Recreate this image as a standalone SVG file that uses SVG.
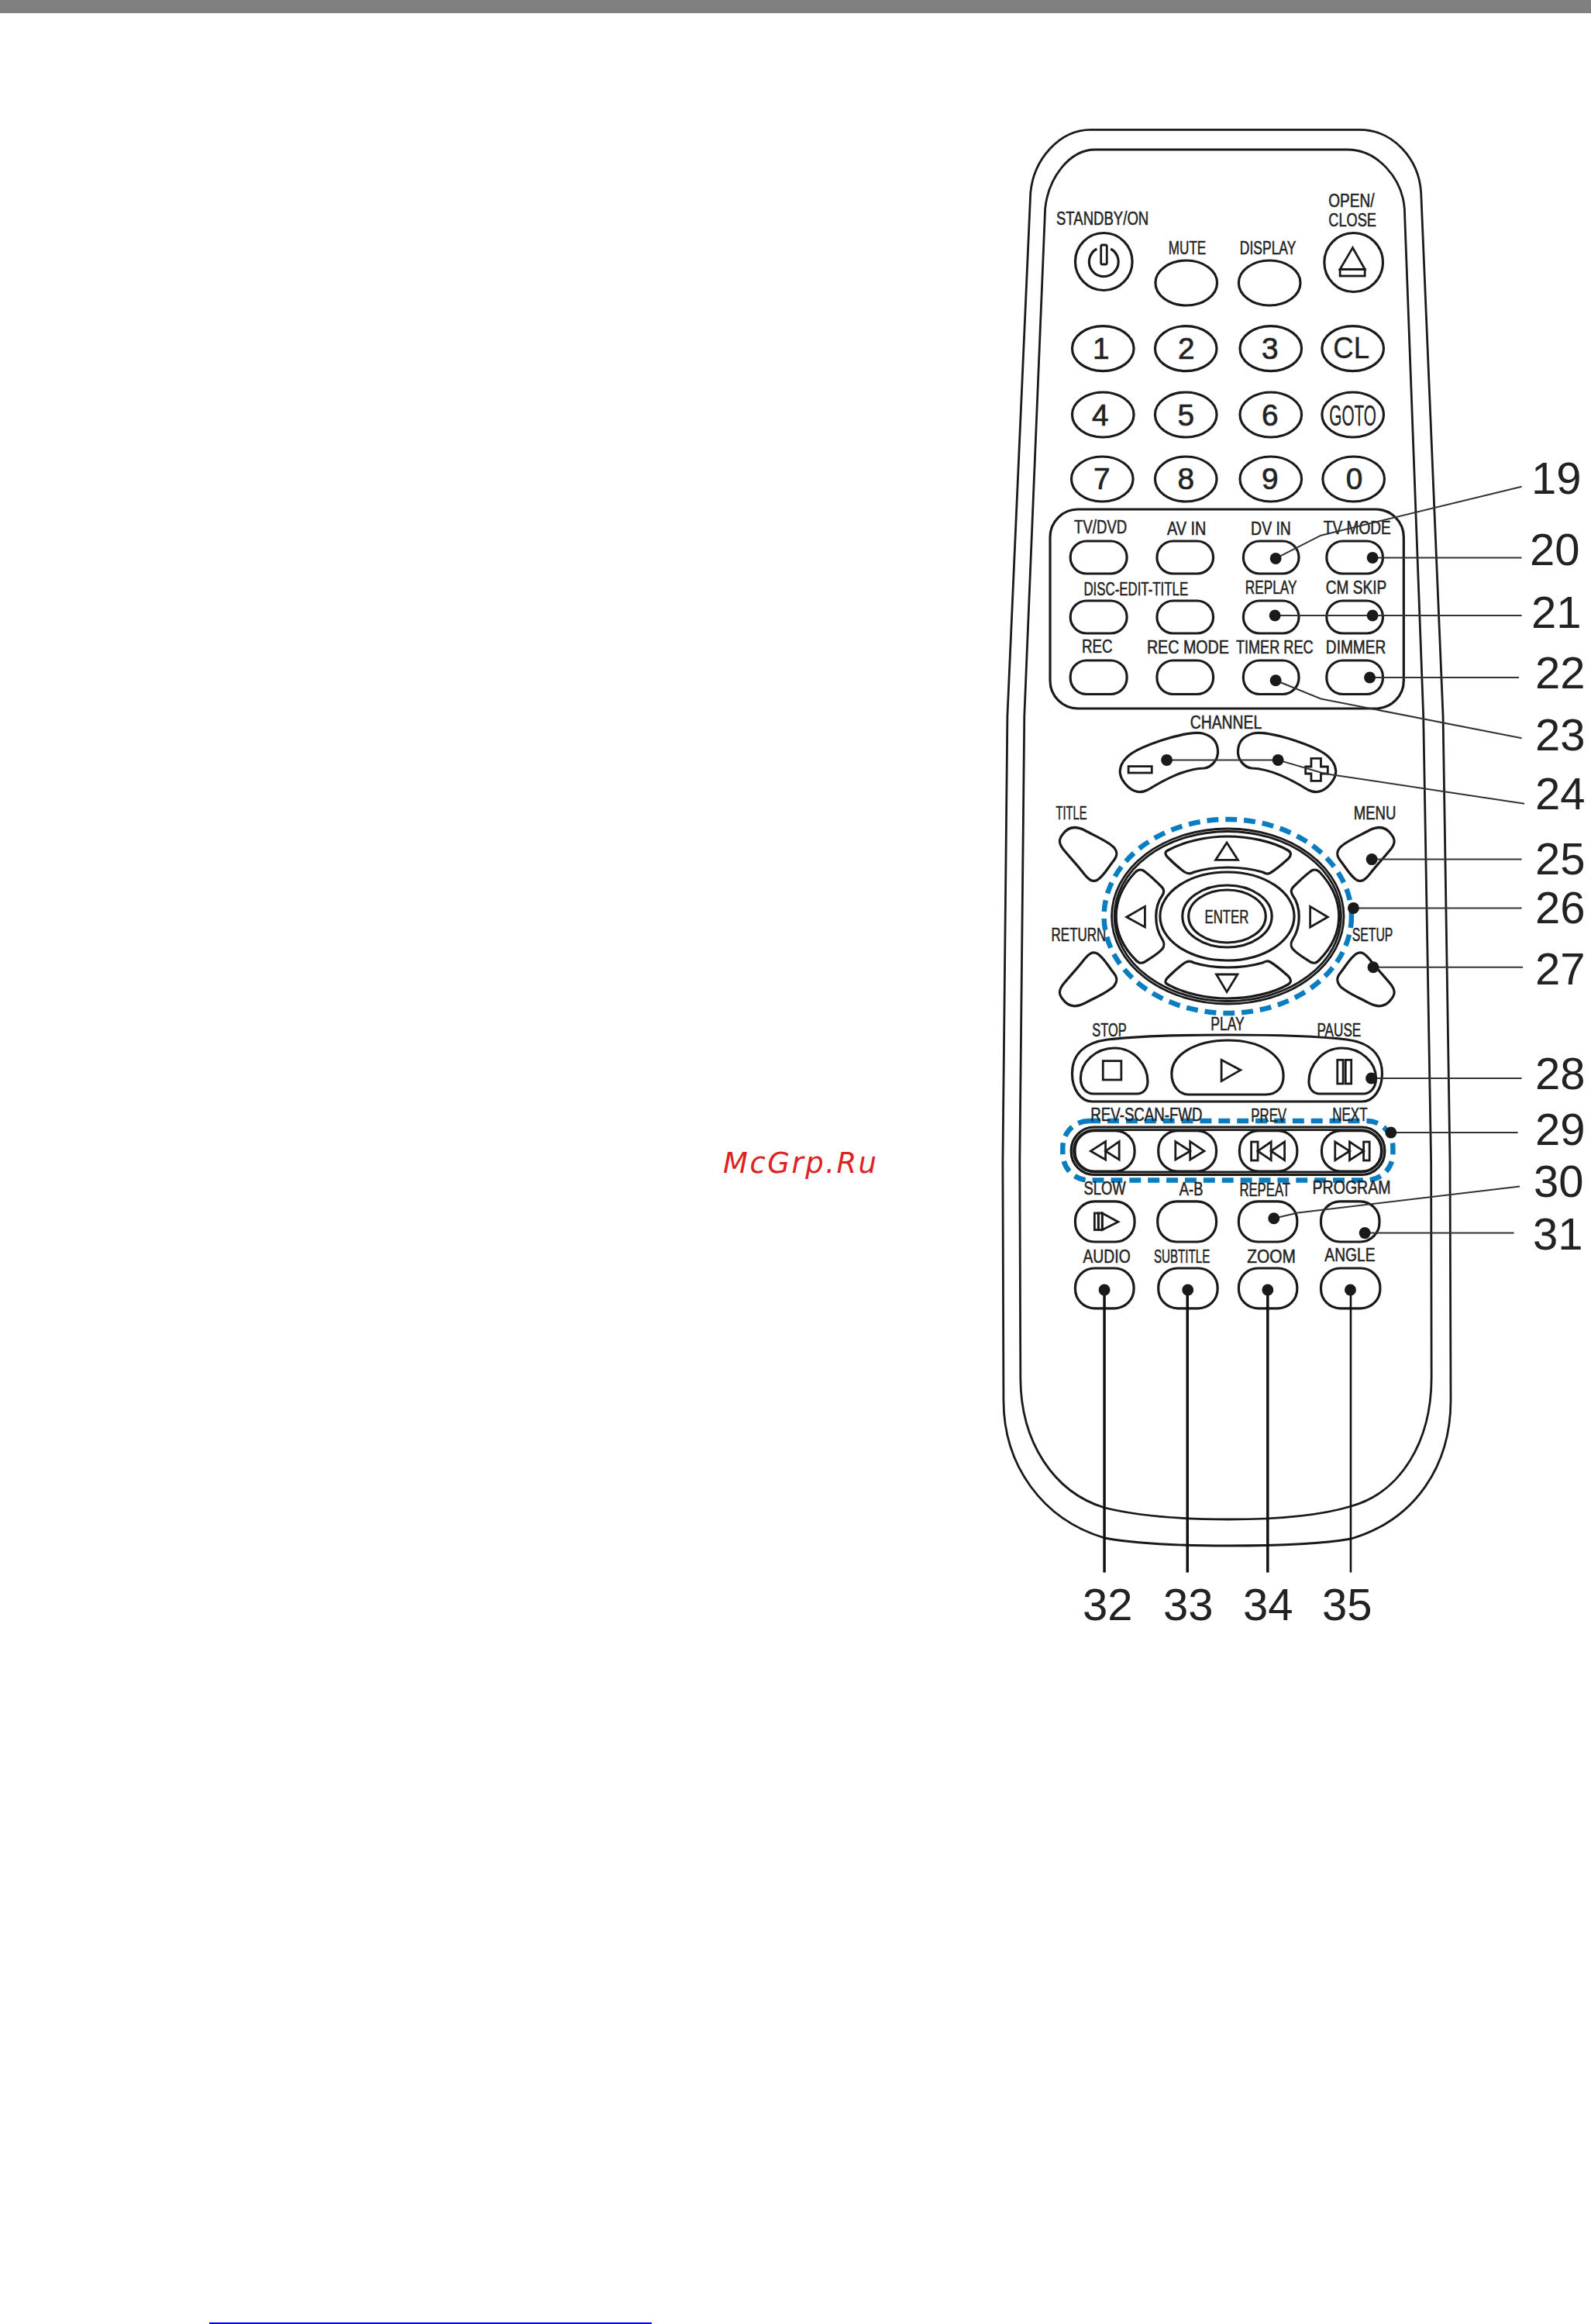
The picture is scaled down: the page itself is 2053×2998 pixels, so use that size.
<svg xmlns="http://www.w3.org/2000/svg" width="2053" height="2998" viewBox="0 0 2053 2998">
<style>
.o{fill:none;stroke:#1a1a1a;stroke-width:2.8}
.b{fill:none;stroke:#1a1a1a;stroke-width:3.2}
.t{font-family:"Liberation Sans",Arial,sans-serif;font-size:23px;fill:#222;stroke:#222;stroke-width:.5}
.d{font-family:"Liberation Sans",Arial,sans-serif;font-size:39px;fill:#222;stroke:#222;stroke-width:.7;text-anchor:middle}
.n{font-family:"Liberation Sans",Arial,sans-serif;font-size:58px;fill:#222}
.dash{fill:none;stroke:#0a7cc0;stroke-width:6.5;stroke-dasharray:15 9}
.l{fill:none;stroke:#333;stroke-width:2}
.v{fill:none;stroke:#111;stroke-width:3.5}
.dot{fill:#1a1a1a}
</style>
<rect x="0" y="0" width="2053" height="17" fill="#808080"/>
<rect x="270" y="2996" width="571" height="2" fill="#0000ff"/>
<text x="933" y="1513" font-family="DejaVu Sans,sans-serif" font-style="italic" font-size="37" letter-spacing="2.5" fill="#dd2222">McGrp.Ru</text>

<g id="remote" transform="matrix(.995 0 0 1 6.4 0)">
<g id="body">
<path class="o" d="M1409 167.4H1756C1800 167 1834 205 1836.5 249L1865 924L1874 1500L1875 1806C1875 1890 1830 1960 1746 1985C1700 1993 1640 1994 1587 1994C1535 1994 1475 1993 1426 1984C1345 1960 1295 1890 1295 1806L1294 1500L1300 924L1330 249C1334 205 1368 167 1409 167.4Z"/>
<path class="o" d="M1414 193H1741C1780 193 1812 230 1815 269L1839.5 924L1849.5 1500L1850 1777C1850 1860 1810 1925 1746 1943C1700 1957 1640 1960 1587 1960C1535 1960 1475 1957 1426 1945C1360 1925 1317 1860 1317 1777L1316 1500L1322 924L1349 269C1353 230 1380 193 1414 193Z"/>
</g>

<g id="standby"><circle class="b" cx="1425" cy="337.5" r="37"/><path class="b" d="M1416 321A19 19 0 1 0 1434 321"/><rect class="o" x="1421.4" y="316" width="7.6" height="25" rx="2"/><text class="t" x="1363.3" y="289.9" textLength="120" lengthAdjust="spacingAndGlyphs">STANDBY/ON</text></g>
<g id="mute"><ellipse class="b" cx="1532" cy="365" rx="40" ry="29"/><text class="t" x="1509" y="327.6" textLength="48.6" lengthAdjust="spacingAndGlyphs">MUTE</text></g>
<g id="display"><ellipse class="b" cx="1640" cy="365" rx="40" ry="29"/><text class="t" x="1601.4" y="327.6" textLength="73" lengthAdjust="spacingAndGlyphs">DISPLAY</text></g>
<g id="open-close"><circle class="b" cx="1749" cy="338.5" r="38"/><path class="o" d="M1747.8 319.6L1731.4 347.4H1763.6Z"/><rect class="o" x="1731.4" y="347.4" width="32.2" height="8.6"/><text class="t" x="1716.5" y="266.6" textLength="59.5" lengthAdjust="spacingAndGlyphs">OPEN/</text><text class="t" x="1716.5" y="292.4" textLength="62" lengthAdjust="spacingAndGlyphs">CLOSE</text></g>

<g id="keys">
<g id="key1"><ellipse class="b" cx="1424" cy="449.6" rx="40" ry="29"/><text class="d" x="1421.4" y="463.5">1</text></g>
<g id="key2"><ellipse class="b" cx="1531.5" cy="449.6" rx="40" ry="29"/><text class="d" x="1532" y="463.5">2</text></g>
<g id="key3"><ellipse class="b" cx="1641.6" cy="449.6" rx="40" ry="29"/><text class="d" x="1640.6" y="463.5">3</text></g>
<g id="keyCL"><ellipse class="b" cx="1748" cy="449.6" rx="40" ry="29"/><text class="d" x="1746" y="462" textLength="47" lengthAdjust="spacingAndGlyphs" style="font-size:38px;stroke-width:.3">CL</text></g>
<g id="key4"><ellipse class="b" cx="1424" cy="535" rx="40" ry="29"/><text class="d" x="1420.4" y="549.3">4</text></g>
<g id="key5"><ellipse class="b" cx="1531.5" cy="535" rx="40" ry="29"/><text class="d" x="1531.5" y="549.3">5</text></g>
<g id="key6"><ellipse class="b" cx="1641.6" cy="535" rx="40" ry="29"/><text class="d" x="1640.6" y="549.3">6</text></g>
<g id="keyGOTO"><ellipse class="b" cx="1748" cy="535" rx="40" ry="29"/><text class="d" x="1748" y="549" textLength="61" lengthAdjust="spacingAndGlyphs" style="font-size:37px;stroke-width:.3">GOTO</text></g>
<g id="key7"><ellipse class="b" cx="1423" cy="618" rx="40" ry="29"/><text class="d" x="1422.4" y="631">7</text></g>
<g id="key8"><ellipse class="b" cx="1531.5" cy="618" rx="40" ry="29"/><text class="d" x="1531.5" y="631">8</text></g>
<g id="key9"><ellipse class="b" cx="1641.6" cy="618" rx="40" ry="29"/><text class="d" x="1640.6" y="631">9</text></g>
<g id="key0"><ellipse class="b" cx="1749" cy="618" rx="40" ry="29"/><text class="d" x="1750" y="631">0</text></g>
</g>

<g id="panel">
<rect class="b" x="1355.4" y="657" width="458.6" height="257" rx="36"/>
<g id="tvdvd"><rect class="b" x="1381.7" y="698" width="73.3" height="42" rx="21"/><text class="t" x="1386.6" y="687.7" textLength="68.5" lengthAdjust="spacingAndGlyphs">TV/DVD</text></g>
<g id="avin"><rect class="b" x="1494" y="698" width="73" height="42" rx="21"/><text class="t" x="1507.2" y="689.7" textLength="50.6" lengthAdjust="spacingAndGlyphs">AV IN</text></g>
<g id="dvin"><rect class="b" x="1606" y="698" width="72" height="42" rx="21"/><text class="t" x="1615.8" y="689.7" textLength="52" lengthAdjust="spacingAndGlyphs">DV IN</text></g>
<g id="tvmode"><rect class="b" x="1714" y="698" width="73" height="42" rx="21"/><text class="t" x="1710" y="689.2" textLength="87.3" lengthAdjust="spacingAndGlyphs">TV MODE</text></g>
<g id="disc"><rect class="b" x="1381.7" y="775" width="73.3" height="42" rx="21"/><text class="t" x="1399" y="767.6" textLength="135.4" lengthAdjust="spacingAndGlyphs">DISC-EDIT-TITLE</text></g>
<g id="blank"><rect class="b" x="1494" y="775" width="73" height="42" rx="21"/></g>
<g id="replay"><rect class="b" x="1606" y="775" width="72" height="42" rx="21"/><text class="t" x="1608.4" y="766" textLength="67" lengthAdjust="spacingAndGlyphs">REPLAY</text></g>
<g id="cmskip"><rect class="b" x="1714" y="775" width="73" height="42" rx="21"/><text class="t" x="1713" y="766" textLength="78.9" lengthAdjust="spacingAndGlyphs">CM SKIP</text></g>
<g id="rec"><rect class="b" x="1381.7" y="852" width="73.3" height="43.5" rx="21"/><text class="t" x="1396.6" y="842" textLength="39.7" lengthAdjust="spacingAndGlyphs">REC</text></g>
<g id="recmode"><rect class="b" x="1494" y="852" width="73" height="43.5" rx="21"/><text class="t" x="1480.9" y="843" textLength="106.6" lengthAdjust="spacingAndGlyphs">REC MODE</text></g>
<g id="timerrec"><rect class="b" x="1606" y="852" width="72" height="43.5" rx="21"/><text class="t" x="1596.5" y="843" textLength="100.2" lengthAdjust="spacingAndGlyphs">TIMER REC</text></g>
<g id="dimmer"><rect class="b" x="1714" y="852" width="73" height="43.5" rx="21"/><text class="t" x="1713" y="843" textLength="77.9" lengthAdjust="spacingAndGlyphs">DIMMER</text></g>
</g>

<g id="channel">
<text class="t" x="1537" y="939.6" textLength="93" lengthAdjust="spacingAndGlyphs">CHANNEL</text>
<path id="chMinus" class="b" d="M1446 995C1447 975 1470 965 1500 955C1525 947 1545 944 1553 946C1568 950 1573 960 1573 970C1573 980 1565 990 1555 991C1530 992 1505 1005 1482 1019C1470 1025 1460 1020 1452 1010C1448 1005 1446 1000 1446 995Z"/>
<path id="chPlus" class="b" transform="matrix(-1 0 0 1 3172 0)" d="M1446 995C1447 975 1470 965 1500 955C1525 947 1545 944 1553 946C1568 950 1573 960 1573 970C1573 980 1565 990 1555 991C1530 992 1505 1005 1482 1019C1470 1025 1460 1020 1452 1010C1448 1005 1446 1000 1446 995Z"/>
<rect class="o" x="1457" y="988.6" width="30.3" height="8.4"/>
<path class="o" d="M1694 978.4H1706.6V989H1715.5V998H1706.6V1007.3H1694V998H1686.7V989H1694Z"/>
</g>

<g id="title"><path class="b" d="M1372 1076C1380 1065 1390 1066 1400 1071C1415 1079 1430 1085 1438 1093C1444 1100 1442 1105 1438 1110C1430 1120 1425 1130 1417 1135C1410 1139 1405 1134 1400 1128C1390 1115 1380 1105 1372 1095C1366 1087 1367 1082 1372 1076Z"/><text class="t" x="1363" y="1057" textLength="40" lengthAdjust="spacingAndGlyphs">TITLE</text></g>
<g id="menu"><path class="b" transform="matrix(-1 0 0 1 3169.6 0)" d="M1372 1076C1380 1065 1390 1066 1400 1071C1415 1079 1430 1085 1438 1093C1444 1100 1442 1105 1438 1110C1430 1120 1425 1130 1417 1135C1410 1139 1405 1134 1400 1128C1390 1115 1380 1105 1372 1095C1366 1087 1367 1082 1372 1076Z"/><text class="t" x="1749" y="1057" textLength="55" lengthAdjust="spacingAndGlyphs">MENU</text></g>
<g id="return"><path class="b" transform="matrix(1 0 0 -1 0 2365.3)" d="M1372 1076C1380 1065 1390 1066 1400 1071C1415 1079 1430 1085 1438 1093C1444 1100 1442 1105 1438 1110C1430 1120 1425 1130 1417 1135C1410 1139 1405 1134 1400 1128C1390 1115 1380 1105 1372 1095C1366 1087 1367 1082 1372 1076Z"/><text class="t" x="1357" y="1214" textLength="71" lengthAdjust="spacingAndGlyphs">RETURN</text></g>
<g id="setup"><path class="b" transform="matrix(-1 0 0 -1 3169.6 2365.3)" d="M1372 1076C1380 1065 1390 1066 1400 1071C1415 1079 1430 1085 1438 1093C1444 1100 1442 1105 1438 1110C1430 1120 1425 1130 1417 1135C1410 1139 1405 1134 1400 1128C1390 1115 1380 1105 1372 1095C1366 1087 1367 1082 1372 1076Z"/><text class="t" x="1747" y="1214" textLength="53" lengthAdjust="spacingAndGlyphs">SETUP</text></g>

<g id="dial">
<ellipse class="dash" cx="1585.8" cy="1182" rx="160.5" ry="125"/>
<ellipse class="o" cx="1585.8" cy="1182" rx="150.5" ry="113"/>
<ellipse class="o" cx="1585.8" cy="1182" rx="147" ry="109.5"/>
<path id="up" class="b" d="M1508 1097C1530 1085 1560 1079 1585 1079C1615 1079 1645 1086 1664 1097C1669 1100 1668 1104 1664 1108C1655 1116 1648 1122 1641 1126C1637 1128 1635 1127 1631 1125C1603 1117 1568 1117 1542 1125C1538 1127 1535 1128 1530 1125C1523 1120 1515 1113 1508 1106C1504 1102 1504 1099 1508 1097Z"/>
<path id="down" class="b" transform="matrix(1 0 0 -1 0 2367)" d="M1508 1097C1530 1085 1560 1079 1585 1079C1615 1079 1645 1086 1664 1097C1669 1100 1668 1104 1664 1108C1655 1116 1648 1122 1641 1126C1637 1128 1635 1127 1631 1125C1603 1117 1568 1117 1542 1125C1538 1127 1535 1128 1530 1125C1523 1120 1515 1113 1508 1106C1504 1102 1504 1099 1508 1097Z"/>
<path id="left" class="b" d="M1466 1125C1470 1121 1475 1121 1479 1125C1487 1131 1495 1139 1501 1145C1504 1149 1503 1152 1501 1155C1490 1170 1490 1195 1501 1212C1504 1217 1504 1220 1501 1224C1495 1231 1487 1235 1478 1241C1474 1243 1471 1243 1467 1239C1450 1222 1441 1203 1441 1182C1441 1160 1450 1142 1466 1125Z"/>
<path id="right" class="b" transform="matrix(-1 0 0 1 3171 0)" d="M1466 1125C1470 1121 1475 1121 1479 1125C1487 1131 1495 1139 1501 1145C1504 1149 1503 1152 1501 1155C1490 1170 1490 1195 1501 1212C1504 1217 1504 1220 1501 1224C1495 1231 1487 1235 1478 1241C1474 1243 1471 1243 1467 1239C1450 1222 1441 1203 1441 1182C1441 1160 1450 1142 1466 1125Z"/>
<ellipse class="b" cx="1585" cy="1182" rx="87" ry="57"/>
<ellipse class="b" cx="1585" cy="1182" rx="58" ry="40"/>
<ellipse class="b" cx="1585" cy="1182" rx="50" ry="34"/>
<text class="t" x="1556" y="1190.6" textLength="57" lengthAdjust="spacingAndGlyphs">ENTER</text>
<path class="o" d="M1584.6 1087L1570 1109.4H1599Z"/>
<path class="o" d="M1584.6 1279.6L1571 1257H1598.5Z"/>
<path class="o" d="M1454.6 1183L1478.4 1169.4V1196Z"/>
<path class="o" d="M1715.5 1183L1692.7 1169.4V1196Z"/>
</g>

<g id="transport">
<path class="b" d="M1384 1385C1384 1360 1400 1345 1430 1341C1500 1333 1670 1333 1740 1341C1770 1345 1786 1360 1786 1385C1786 1405 1775 1421 1760 1421L1410 1421C1395 1421 1384 1405 1384 1385Z"/>
<g id="stop"><path class="b" d="M1395 1391C1395 1370 1415 1352 1439 1352C1465 1352 1482 1375 1482 1395C1482 1405 1476 1411 1468 1411L1412 1411C1402 1411 1395 1403 1395 1391Z"/><rect class="o" x="1424" y="1368.6" width="23.7" height="24.4"/><text class="t" x="1410" y="1336.7" textLength="44.6" lengthAdjust="spacingAndGlyphs">STOP</text></g>
<g id="play"><path class="b" d="M1513 1385C1513 1360 1545 1342 1586 1342C1630 1342 1658 1362 1658 1388C1658 1402 1650 1412 1635 1412L1535 1412C1522 1412 1513 1400 1513 1385Z"/><path class="o" d="M1577.6 1367.3L1602.4 1380.4L1577.6 1394.7Z"/><text class="t" x="1563.7" y="1328.6" textLength="43.7" lengthAdjust="spacingAndGlyphs">PLAY</text></g>
<g id="pause"><path class="b" transform="matrix(-1 0 0 1 3173 0)" d="M1395 1391C1395 1370 1415 1352 1439 1352C1465 1352 1482 1375 1482 1395C1482 1405 1476 1411 1468 1411L1412 1411C1402 1411 1395 1403 1395 1391Z"/><rect class="o" x="1728" y="1367.3" width="7.4" height="30.7"/><rect class="o" x="1738.6" y="1367.3" width="7.4" height="30.7"/><text class="t" x="1701.6" y="1336.7" textLength="57" lengthAdjust="spacingAndGlyphs">PAUSE</text></g>
</g>

<g id="scan">
<rect class="dash" x="1371.8" y="1446" width="428.2" height="76.4" rx="34"/>
<rect class="b" x="1382.7" y="1454" width="406.7" height="61.5" rx="30"/>
<rect class="o" x="1386" y="1457.6" width="400" height="54.4" rx="27"/>
<g id="rev"><rect class="b" x="1387.6" y="1458.6" width="77.4" height="52.4" rx="25"/><path class="o" d="M1408 1484.9L1427.3 1472.6V1496ZM1427.3 1484.9L1445 1472.6V1496Z"/></g>
<g id="fwd"><rect class="b" x="1495.8" y="1458.6" width="75.2" height="52.4" rx="25"/><path class="o" d="M1518 1472.6L1537 1484.9L1518 1496ZM1537 1472.6L1555.3 1484.9L1537 1496Z"/></g>
<g id="prev"><rect class="b" x="1601" y="1458.6" width="74.8" height="52.4" rx="25"/><rect class="o" x="1616.3" y="1473" width="8.5" height="24"/><path class="o" d="M1624.8 1484.9L1642 1473V1496.7ZM1642 1484.9L1659.5 1473V1496.7Z"/></g>
<g id="next"><rect class="b" x="1707.6" y="1458.6" width="77.4" height="52.4" rx="25"/><path class="o" d="M1725 1473L1743.8 1484.9L1725 1496.7ZM1743.8 1473L1762 1484.9L1743.8 1496.7Z"/><rect class="o" x="1762" y="1473" width="7.6" height="24"/></g>
<text class="t" x="1408" y="1446" textLength="144.8" lengthAdjust="spacingAndGlyphs">REV-SCAN-FWD</text>
<text class="t" x="1616" y="1447" textLength="46" lengthAdjust="spacingAndGlyphs">PREV</text>
<text class="t" x="1721.5" y="1446" textLength="45.5" lengthAdjust="spacingAndGlyphs">NEXT</text>
</g>

<g id="slow"><rect class="b" x="1388" y="1549.8" width="77" height="52.2" rx="25"/><rect class="o" x="1413" y="1565" width="5" height="21.5"/><rect class="o" x="1418" y="1565" width="5" height="21.5"/><path class="o" d="M1423 1565L1443.7 1576.3L1423 1586.5Z"/><text class="t" x="1399" y="1541" textLength="54.6" lengthAdjust="spacingAndGlyphs">SLOW</text></g>
<g id="ab"><rect class="b" x="1494.8" y="1549.8" width="76.2" height="52.2" rx="25"/><text class="t" x="1523" y="1542" textLength="30.8" lengthAdjust="spacingAndGlyphs">A-B</text></g>
<g id="repeat"><rect class="b" x="1600" y="1549.8" width="75.8" height="52.2" rx="25"/><text class="t" x="1601" y="1543" textLength="66" lengthAdjust="spacingAndGlyphs">REPEAT</text></g>
<g id="program"><rect class="b" x="1706.6" y="1549.8" width="75.9" height="52.2" rx="25"/><text class="t" x="1695.7" y="1540" textLength="101.3" lengthAdjust="spacingAndGlyphs">PROGRAM</text></g>
<g id="audio"><rect class="b" x="1388" y="1636" width="76" height="51.8" rx="25"/><text class="t" x="1398" y="1628.6" textLength="61.6" lengthAdjust="spacingAndGlyphs">AUDIO</text></g>
<g id="subtitle"><rect class="b" x="1495.8" y="1636" width="76.8" height="51.8" rx="25"/><text class="t" x="1490" y="1628.6" textLength="72.7" lengthAdjust="spacingAndGlyphs">SUBTITLE</text></g>
<g id="zoom"><rect class="b" x="1600" y="1636" width="75.8" height="51.8" rx="25"/><text class="t" x="1611" y="1628.6" textLength="63" lengthAdjust="spacingAndGlyphs">ZOOM</text></g>
<g id="angle"><rect class="b" x="1706.6" y="1636" width="76.8" height="51.8" rx="25"/><text class="t" x="1711.5" y="1627.3" textLength="65.5" lengthAdjust="spacingAndGlyphs">ANGLE</text></g>

<g id="connectors">
<path class="l" d="M1648 720.4L1706.6 690.7L1967 627.7"/>
<path class="l" d="M1773.6 719.4H1967"/>
<path class="l" d="M1647 794H1967"/>
<path class="l" d="M1770 874H1963.5"/>
<path class="l" d="M1648 877.7L1706.6 901.5L1967 952.2"/>
<path class="l" d="M1506.7 980.4H1651L1711.5 998L1970.5 1036.7"/>
<path class="l" d="M1772.6 1108.6H1967"/>
<path class="l" d="M1748.8 1171.4H1967"/>
<path class="l" d="M1774.5 1247.8H1968.5"/>
<path class="l" d="M1772 1391H1967"/>
<path class="l" d="M1797.4 1461H1962"/>
<path class="l" d="M1645.6 1571.8L1676.8 1564.5L1964.5 1530.6"/>
<path class="l" d="M1763.6 1590.6H1957"/>
<path class="v" d="M1425.8 1664V2028.6"/>
<path class="v" d="M1533.5 1664V2028.6"/>
<path class="v" d="M1637.6 1664V2028.6"/>
<path class="v" d="M1745.3 1664V2028.6" style="stroke-width:2.6"/>
<g class="dot">
<circle cx="1648" cy="720.4" r="7.5"/><circle cx="1773.6" cy="719.4" r="7.5"/><circle cx="1647" cy="794" r="7.5"/><circle cx="1773.6" cy="794" r="7.5"/><circle cx="1770" cy="874" r="7.5"/><circle cx="1648" cy="877.7" r="7.5"/><circle cx="1506.7" cy="980.4" r="7.5"/><circle cx="1651" cy="980.4" r="7.5"/><circle cx="1772.6" cy="1108.6" r="7.5"/><circle cx="1748.8" cy="1171.4" r="7.5"/><circle cx="1774.5" cy="1247.8" r="7.5"/><circle cx="1772" cy="1391" r="7.5"/><circle cx="1797.4" cy="1461" r="7.5"/><circle cx="1645.6" cy="1571.8" r="7.5"/><circle cx="1763.6" cy="1590.6" r="7.5"/><circle cx="1425.8" cy="1664" r="7.5"/><circle cx="1534" cy="1664" r="7.5"/><circle cx="1637.6" cy="1664" r="7.5"/><circle cx="1744.8" cy="1664" r="7.5"/>
</g>
</g>
</g>

<g id="numbers">
<text class="n" x="1976" y="637">19</text>
<text class="n" x="1974" y="729">20</text>
<text class="n" x="1976" y="810">21</text>
<text class="n" x="1981" y="888">22</text>
<text class="n" x="1981" y="967.5">23</text>
<text class="n" x="1981" y="1044">24</text>
<text class="n" x="1981" y="1127.5">25</text>
<text class="n" x="1981" y="1191">26</text>
<text class="n" x="1981" y="1270.4">27</text>
<text class="n" x="1981" y="1405">28</text>
<text class="n" x="1981" y="1477">29</text>
<text class="n" x="1979" y="1544">30</text>
<text class="n" x="1978" y="1612">31</text>
<text class="n" x="1397" y="2090">32</text>
<text class="n" x="1501" y="2090">33</text>
<text class="n" x="1604" y="2090">34</text>
<text class="n" x="1706" y="2090">35</text>
</g>
</svg>
